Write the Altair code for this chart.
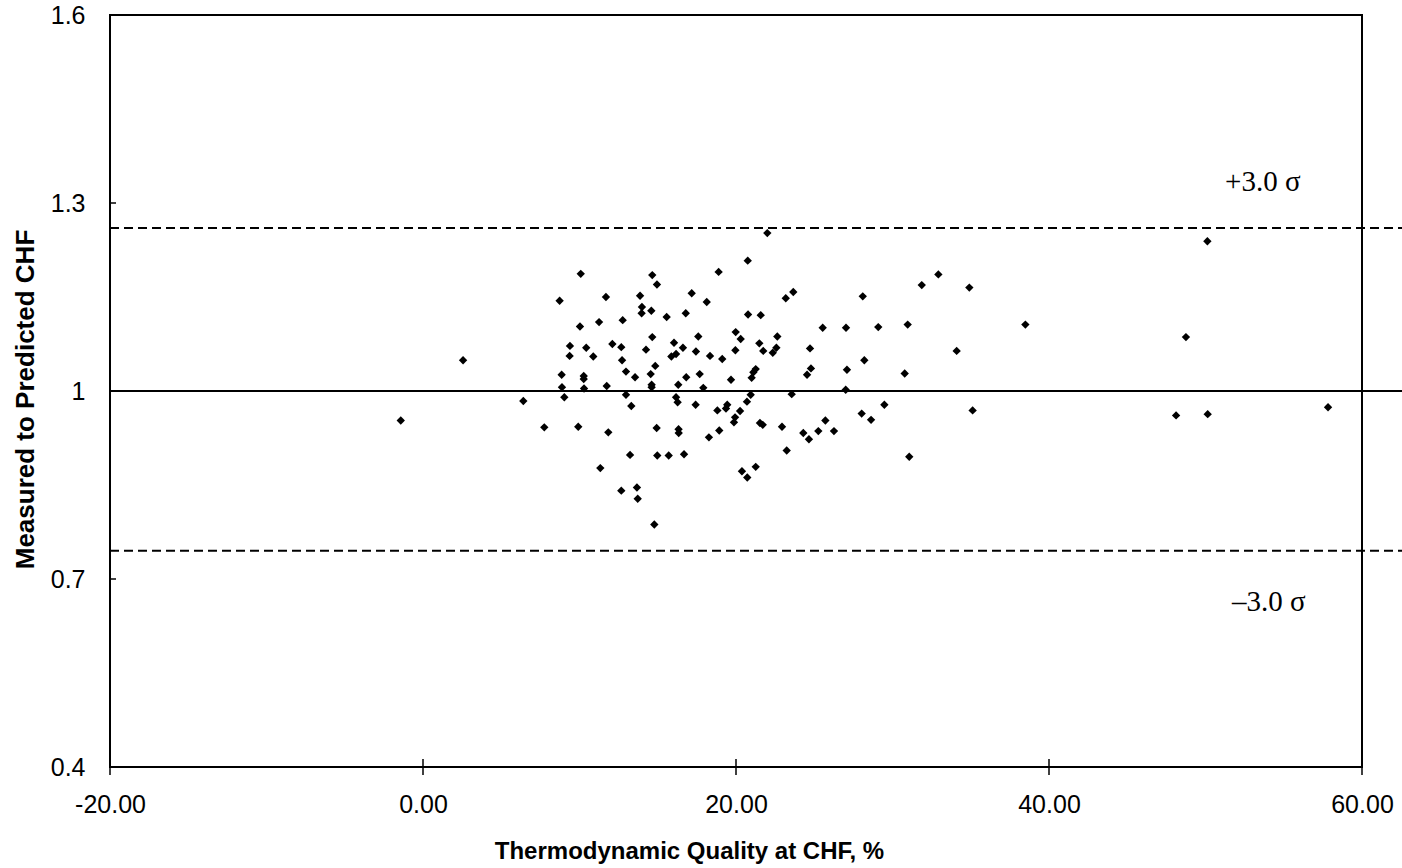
import altair as alt
import pandas as pd

# ---- data ----
quality = [10.08, 14.65, 14.95, 8.73, 11.69, 13.87, 13.99, 13.97, 14.59, 15.57,
           12.76, 11.25, 10.03, 2.56, 9.39, 10.43, 12.10, 12.67, 14.65, 14.25,
           16.04, 9.37, 10.88, 12.72, 14.84, 15.87, 16.17, 12.97, 13.55, 14.55,
           8.86, 10.27, 10.27, 8.88, 10.29, 11.74, 14.61, 14.61, 16.31, 9.03,
           6.41, 12.97, 13.31, 16.17, 16.27, -1.42, 7.75, 9.92, 11.84, 14.93,
           16.33, 16.34, 13.23, 14.97, 15.70, 11.33, 12.67, 13.67, 13.72, 14.78,
           22.00, 20.75, 18.89, 17.17, 18.13, 16.79, 20.77, 21.58, 23.18, 23.66,
           28.10, 31.87, 32.93, 25.54, 27.03, 29.09, 30.97, 16.61, 17.59, 17.44,
           18.34, 19.12, 19.98, 20.30, 19.96, 21.49, 21.74, 22.64, 22.58, 22.35,
           24.73, 34.10, 16.82, 17.68, 19.68, 21.26, 21.11, 21.00, 24.79, 24.54,
           27.09, 28.20, 30.78,
           17.91, 17.42, 23.56, 27.01, 20.94, 20.70, 19.44, 19.36, 18.81, 20.26,
           19.94, 19.87, 18.93, 18.27, 21.53, 21.71, 22.94, 24.30, 24.66, 25.26,
           25.71, 26.26, 28.03, 28.63, 29.48, 16.68, 23.24, 31.07, 20.38, 20.72,
           21.26,
           34.91, 38.49, 50.12, 48.75, 35.12, 48.12, 50.14, 57.83]

ratio = [1.187, 1.185, 1.170, 1.144, 1.150, 1.152, 1.134, 1.124, 1.128, 1.118,
         1.113, 1.110, 1.103, 1.049, 1.072, 1.069, 1.075, 1.070, 1.086, 1.066,
         1.077, 1.056, 1.055, 1.049, 1.040, 1.055, 1.059, 1.031, 1.022, 1.027,
         1.026, 1.024, 1.019, 1.006, 1.004, 1.008, 1.010, 1.006, 1.010, 0.990,
         0.984, 0.994, 0.976, 0.990, 0.982, 0.953, 0.942, 0.943, 0.934, 0.941,
         0.939, 0.933, 0.898, 0.897, 0.897, 0.877, 0.841, 0.846, 0.828, 0.787,
         1.252, 1.208, 1.190, 1.156, 1.142, 1.124, 1.122, 1.121, 1.148, 1.158,
         1.151, 1.169, 1.186, 1.101, 1.101, 1.102, 1.106, 1.069, 1.087, 1.063,
         1.056, 1.051, 1.094, 1.083, 1.065, 1.076, 1.064, 1.087, 1.069, 1.061,
         1.068, 1.064, 1.022, 1.027, 1.018, 1.035, 1.030, 1.021, 1.036, 1.026,
         1.034, 1.049, 1.028,
         1.005, 0.978, 0.995, 1.002, 0.994, 0.983, 0.978, 0.972, 0.969, 0.968,
         0.958, 0.950, 0.937, 0.926, 0.949, 0.946, 0.943, 0.933, 0.923, 0.936,
         0.953, 0.936, 0.964, 0.954, 0.978, 0.899, 0.905, 0.895, 0.872, 0.862,
         0.879,
         1.165, 1.106, 1.239, 1.086, 0.969, 0.961, 0.963, 0.974]

x_ticks = [-20, 0, 20, 40, 60]
y_ticks = [0.4, 0.7, 1.0, 1.3, 1.6]
band_levels = [1.26, 0.745]
mean_level = [1.0]
line_start = -20
line_end = 62.6
sigma_text = ["+3.0 \u03c3", "\u20133.0 \u03c3"]
sigma_x = [51.25, 51.69]
sigma_y = [1.319, 0.649]

points = pd.DataFrame({"q": quality, "r": ratio})
bands = pd.DataFrame({"r": band_levels, "q": [line_start] * 2, "q2": [line_end] * 2})
mean = pd.DataFrame({"r": mean_level, "q": [line_start], "q2": [line_end]})
labels = pd.DataFrame({"t": sigma_text, "q": sigma_x, "r": sigma_y})
xt = pd.DataFrame({"q": x_ticks})
yt = pd.DataFrame({"r": y_ticks})

xs = alt.Scale(domain=[-20, 60], nice=False, zero=False)
ys = alt.Scale(domain=[0.4, 1.6], nice=False, zero=False)
FONT = "Liberation Sans"

pts = alt.Chart(points).mark_point(shape="diamond", filled=True, color="black",
                                   opacity=1, size=70).encode(
    x=alt.X("q:Q", scale=xs, axis=alt.Axis(
        values=x_ticks, labelExpr="replace(format(datum.value, '.2f'), '\u2212', '-')",
        title="Thermodynamic Quality at CHF, %",
        labelFont=FONT, labelFontSize=25, labelColor="black", labelPadding=25,
        labelFlush=False, labelOverlap=False,
        ticks=False, tickSize=0, domain=False, grid=False,
        titleFont=FONT, titleFontSize=24, titleFontWeight="bold", titleColor="black",
        titleX=579, titleY=91, titleBaseline="alphabetic", titleAlign="center")),
    y=alt.Y("r:Q", scale=ys, axis=alt.Axis(
        values=y_ticks, format=".2~f", title="Measured to Predicted CHF",
        labelFont=FONT, labelFontSize=25, labelColor="black", labelPadding=25,
        labelFlush=False, labelOverlap=False,
        ticks=False, tickSize=0, domain=False, grid=False,
        titleFont=FONT, titleFontSize=26, titleFontWeight="bold", titleColor="black",
        titleX=-77, titleY=384, titleAngle=270, titleBaseline="alphabetic",
        titleAlign="center")),
)

band_rules = alt.Chart(bands).mark_rule(color="black", strokeWidth=2,
                                        strokeDash=[9, 5]).encode(
    x=alt.X("q:Q", scale=xs),
    x2="q2:Q",
    y=alt.Y("r:Q", scale=ys),
)

mean_rule = alt.Chart(mean).mark_rule(color="black", strokeWidth=2).encode(
    x=alt.X("q:Q", scale=xs),
    x2="q2:Q",
    y=alt.Y("r:Q", scale=ys),
)

sigma = alt.Chart(labels).mark_text(font="Liberation Serif", fontSize=29,
                                    color="black", align="left",
                                    baseline="alphabetic").encode(
    x=alt.X("q:Q", scale=xs),
    y=alt.Y("r:Q", scale=ys),
    text="t:N",
)

ytick_marks = alt.Chart(yt).mark_rule(color="black", strokeWidth=1.5,
                                      x2Offset=6).encode(
    x=alt.XDatum(-20, scale=xs),
    x2=alt.X2Datum(-20),
    y=alt.Y("r:Q", scale=ys),
)

xtick_marks = alt.Chart(xt).mark_rule(color="black", strokeWidth=1.5,
                                      yOffset=-8, y2Offset=8).encode(
    x=alt.X("q:Q", scale=xs),
    y=alt.YDatum(0.4, scale=ys),
    y2=alt.Y2Datum(0.4),
)

chart = alt.layer(pts, band_rules, mean_rule, sigma, ytick_marks, xtick_marks).properties(
    width=1252, height=752,
    autosize=alt.AutoSizeParams(type="none"),
    padding={"left": 110, "top": 15, "right": 40, "bottom": 101},
    background="white",
).configure_view(stroke="black", strokeWidth=2)

chart.save("out.html", embed_options={"renderer": "svg", "actions": False})
